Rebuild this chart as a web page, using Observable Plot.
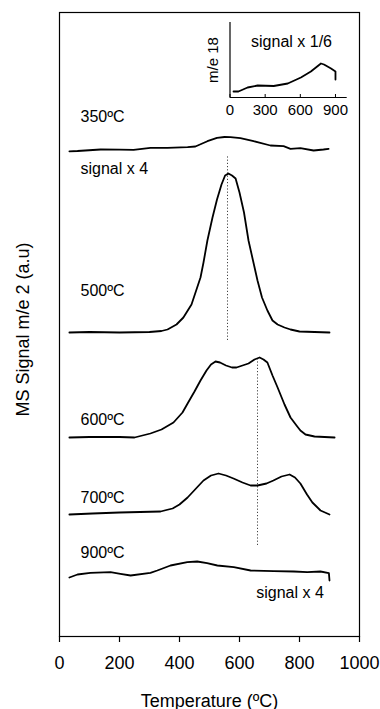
<!DOCTYPE html>
<html><head><meta charset="utf-8">
<script src="https://cdn.jsdelivr.net/npm/d3@7"></script>
<script src="https://cdn.jsdelivr.net/npm/@observablehq/plot@0.6"></script>
<style>
html,body{margin:0;padding:0;background:#fff;}
#wrap{position:relative;width:380px;height:709px;}
#inset{position:absolute;left:200px;top:0;}
svg{font-family:"Liberation Sans",Arial,sans-serif;}
</style></head><body><div id="wrap"><div id="main"></div><div id="inset"></div></div>
<script>
// ---- data (temperature in ºC, signal in a.u., each trace stacked on its own offset) ----
const xTicks = [0, 200, 400, 600, 800, 1000];
const insetTicks = [0, 300, 600, 900];

const t350 = [33, 60, 137, 200, 247, 303, 360, 427, 453, 493, 525, 550, 570, 603, 647, 703, 747, 770, 803, 847, 880, 897];
const s350 = [-0.3, 0, 1.5, 1.3, 1.2, 3.2, 3.2, 3.8, 4.5, 9.8, 13.2, 14, 13.8, 12.8, 9.8, 5.5, 4.8, 2.2, 2.8, 0.5, 1.5, 2.2];

const t500 = [33, 100, 200, 300, 340, 360, 390, 413, 440, 470, 480, 493, 510, 525, 540, 552, 563, 575, 587, 600, 615, 630, 645, 660, 675, 693, 710, 727, 750, 770, 800, 850, 900];
const s500 = [0, 0.5, 0, 0.5, 1.5, 3, 8, 15, 28, 55, 70, 92, 115, 133, 148, 157, 159, 157, 154, 140, 120, 92, 72, 52, 35, 22, 12, 8, 5, 3, 1, 0.5, 0];

const t600 = [33, 100, 200, 250, 303, 340, 380, 410, 427, 450, 470, 490, 505, 520, 535, 555, 575, 590, 610, 630, 650, 667, 680, 693, 710, 727, 750, 770, 790, 803, 820, 850, 917];
const s600 = [0, 0.5, 0.5, 0, 4, 8, 15, 25, 34, 46, 57, 67, 73, 76, 75, 72, 70, 70, 72, 74, 78, 80, 78, 75, 62, 50, 33, 20, 12, 7, 3, 1, 0];

const t700 = [33, 110, 200, 337, 377, 400, 427, 455, 480, 505, 530, 555, 580, 610, 637, 660, 690, 713, 740, 767, 785, 803, 825, 843, 870, 900];
const s700 = [0, 1, 2, 3, 6, 10, 17, 26, 34, 39, 41, 39, 36, 32, 29, 29, 31, 34, 38, 40, 37, 31, 20, 12, 4, 0];

const t900 = [33, 60, 103, 170, 203, 237, 303, 326, 370, 426, 459, 492, 526, 581, 637, 714, 781, 826, 870, 898, 900];
const s900 = [0, 3, 4.7, 5.3, 3.7, 2, 4.7, 7, 12, 15.3, 16, 14.3, 12, 10.3, 7, 6.3, 6, 5.3, 6, 4.3, -3];

const traceNames = ["350ºC", "500ºC", "600ºC", "700ºC", "900ºC"];
const traceOffsets = [485.5, 304, 199, 122, 59];
const traceT = [t350, t500, t600, t700, t900];
const traceS = [s350, s500, s600, s700, s900];

// dotted guide lines at the peak maxima
const guideT = [560, 660];
const guideY1 = [296, 91];
const guideY2 = [481, 279];

// annotations
const labelText = ["350ºC", "signal x 4", "500ºC", "600ºC", "700ºC", "900ºC"];
const labelT = [70, 70, 70, 70, 70, 70];
const labelY = [515, 463, 341, 212, 134, 79];
const noteText = ["signal x 4"];
const noteT = [881];
const noteY = [39];

// inset: m/e 18, signal x 1/6
const tIns = [30, 72, 150, 236, 373, 493, 605, 690, 776, 802, 862, 900, 900];
const sIns = [6, 6, 10, 12, 11.5, 14, 20, 26, 34, 33, 29, 26, 18];

// ---- build tables ----
const rows = [];
traceNames.forEach((name, i) => {
  traceT[i].forEach((t, j) => rows.push({trace: name, T: t, y: traceS[i][j] + traceOffsets[i]}));
});
const guides = guideT.map((t, i) => ({T: t, y1: guideY1[i], y2: guideY2[i]}));
const labels = labelText.map((s, i) => ({text: s, T: labelT[i], y: labelY[i]}));
const notes = noteText.map((s, i) => ({text: s, T: noteT[i], y: noteY[i]}));
const insetRows = tIns.map((t, i) => ({T: t, s: sIns[i]}));

const font = '"Liberation Sans", Arial, sans-serif';

const main = Plot.plot({
  width: 380, height: 709,
  marginLeft: 59, marginRight: 21, marginTop: 12, marginBottom: 73,
  x: {domain: [0, 1000]},
  y: {domain: [0, 624], axis: null},
  style: {fontFamily: font, fontSize: "18px", color: "black", background: "white", overflow: "visible"},
  marks: [
    Plot.frame({stroke: "black", strokeWidth: 1.2}),
    Plot.axisX({ticks: xTicks, tickSize: 6, tickPadding: 14, tickFormat: d => String(d), fontSize: 18, label: null, strokeWidth: 1.2}),
    Plot.ruleX(guides, {x: "T", y1: "y1", y2: "y2", stroke: "#444", strokeWidth: 1, strokeDasharray: "1.2,2"}),
    Plot.line(rows, {x: "T", y: "y", z: "trace", stroke: "black", strokeWidth: 1.8, strokeLinejoin: "round"}),
    Plot.text(labels, {x: "T", y: "y", text: "text", textAnchor: "start", lineAnchor: "bottom", fontSize: 16, fill: "black"}),
    Plot.text(notes, {x: "T", y: "y", text: "text", textAnchor: "end", lineAnchor: "bottom", fontSize: 16, fill: "black"}),
    Plot.text(["Temperature (ºC)"], {frameAnchor: "bottom", textAnchor: "middle", dy: 70, lineAnchor: "bottom", fontSize: 18, fill: "black"}),
    Plot.text(["MS Signal m/e 2 (a.u)"], {frameAnchor: "left", textAnchor: "middle", rotate: -90, dx: -36, dy: 5, fontSize: 18, fill: "black"})
  ]
});
document.getElementById("main").appendChild(main);

const inset = Plot.plot({
  width: 160, height: 125,
  marginLeft: 29.5, marginRight: 13.3, marginTop: 22, marginBottom: 28,
  x: {domain: [0, 1000]},
  y: {domain: [0, 75], axis: null},
  style: {fontFamily: font, fontSize: "15px", color: "black", background: "transparent", overflow: "visible"},
  marks: [
    Plot.ruleX([0], {stroke: "black", strokeWidth: 1.2}),
    Plot.ruleY([0], {stroke: "black", strokeWidth: 1.2}),
    Plot.tickX(insetTicks, {x: d => d, insetTop: 72, stroke: "black"}),
    Plot.axisX({ticks: insetTicks, tickSize: 0, tickPadding: 7, tickFormat: d => String(d), fontSize: 15, label: null}),
    Plot.line(insetRows, {x: "T", y: "s", stroke: "black", strokeWidth: 1.8, strokeLinejoin: "round"}),
    Plot.text(["signal x 1/6"], {x: [525], y: [51], text: d => d, lineAnchor: "bottom", fontSize: 16, fill: "black"}),
    Plot.text(["m/e 18"], {frameAnchor: "left", textAnchor: "middle", rotate: -90, dx: -17, fontSize: 15, fill: "black"})
  ]
});
document.getElementById("inset").appendChild(inset);
</script>
</body></html>
